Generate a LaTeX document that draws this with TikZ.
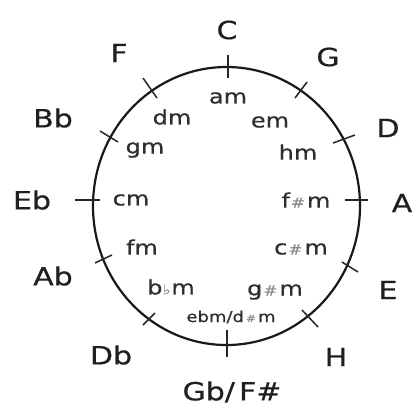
\documentclass[tikz,border=0pt]{standalone}
\usepackage{fontspec}
\setmainfont{DejaVu Sans}[FakeStretch=1.2,FakeBold=0.6]
\newcommand{\shp}{{\color{black!45}\fontsize{14}{14}\selectfont\#}}
\newcommand{\flt}{{\color{black!40}\fontsize{14}{14}\selectfont\symbol{"266D}}}
\begin{document}
\begin{tikzpicture}[x=1pt,y=-1pt,
  outer/.style={font=\fontsize{25}{30}\selectfont, text=black!88, inner sep=0pt},
  minor/.style={font=\fontsize{20}{24}\selectfont, text=black!82, inner sep=0pt},
  ring/.style={line width=2.2pt, black!90},
  tick/.style={line width=1.5pt, black!85}]
\useasboundingbox[fill=white] (0,0) rectangle (412,408);
% circle
\draw[ring] (226.5,206) ellipse [x radius=133.5, y radius=139];
% ticks
\draw[tick] (228,55) -- (228,78);
\draw[tick] (143,78) -- (157,98);
\draw[tick] (295,98) -- (307,82);
\draw[tick] (100,131) -- (118,142);
\draw[tick] (333,143) -- (355,135);
\draw[tick] (75,200) -- (100,200);
\draw[tick] (345,200) -- (368,200);
\draw[tick] (95,263) -- (112,255);
\draw[tick] (342,262) -- (358,272);
\draw[tick] (143,325) -- (155,313);
\draw[tick] (302,310) -- (318,327);
\draw[tick] (227,330) -- (227,357);
% major keys
\node[outer] (C)  at (227,30)  {C};
\node[outer] (G)  at (328,57)  {G};
\node[outer] (D)  at (388,128) {D};
\node[outer] (A)  at (402,203) {A};
\node[outer] (E)  at (388,290) {E};
\node[outer] (H)  at (336,357) {H};
\node[outer] (Gb) at (232,392) {Gb/\,F\#};
\node[outer] (Db) at (111,355) {Db};
\node[outer] (Ab) at (53,276)  {Ab};
\node[outer] (Eb) at (32,200)  {Eb};
\node[outer] (Bb) at (53,118)  {Bb};
\node[outer] (F)  at (119,53)  {F};
% minor keys
\node[minor] (am) at (228,98)  {am};
\node[minor] (em) at (270,122) {em};
\node[minor] (hm) at (298,152) {hm};
\node[minor] (fism) at (306,200) {f\kern1pt\shp\kern2pt m};
\node[minor] (cism) at (301,249) {c\kern1pt\shp\kern2pt m};
\node[minor] (gism) at (275,292) {g\kern1pt\shp\kern2pt m};
\node[font=\fontsize{15}{18}\selectfont, text=black!82, inner sep=0pt] (esm) at (231,317) {ebm/d\kern2pt{\color{black!45}\fontsize{10}{10}\selectfont\#}\kern2pt m};
\node[minor] (bm) at (171,287) {b\kern0.5pt\flt\kern0.5pt m};
\node[minor] (fm) at (142,247) {fm};
\node[minor] (cm) at (131,200) {cm};
\node[minor] (gm) at (145,150) {gm};
\node[minor] (dm) at (172,117) {dm};
\end{tikzpicture}
\end{document}
